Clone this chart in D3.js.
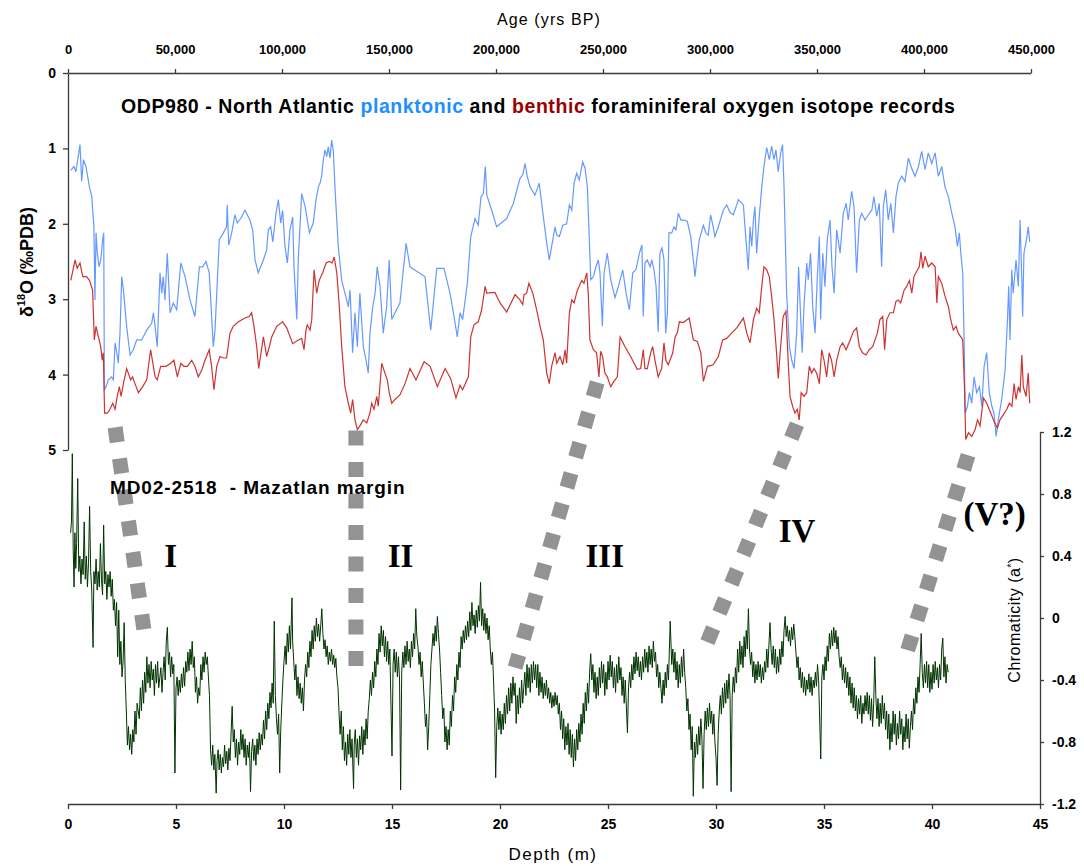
<!DOCTYPE html>
<html>
<head>
<meta charset="utf-8">
<script src="https://cdn.jsdelivr.net/npm/d3@7"></script>
<style>
  body { margin: 0; background: #fff; }
  text { font-family: "Liberation Sans", Arial, sans-serif; }
</style>
</head>
<body>
<div id="wrapper"></div>
<script>
// ODP980 planktonic / benthic d18O (age in kyr BP, per mil PDB)
const planktonic = [[1.3,1.29],[2.8,1.24],[3.7,1.31],[5.6,0.95],[6.4,1.44],[7.2,1.15],[8.4,1.24],[10.0,1.51],[11.1,1.64],[12.1,2.04],[12.6,3.01],[13.1,2.12],[13.7,2.39],[14.5,2.57],[15.3,2.48],[16.2,2.21],[16.7,2.12],[17.0,4.2],[17.8,4.16],[18.8,4.07],[20.4,4.03],[21.2,4.07],[22.0,3.58],[22.8,3.71],[23.5,3.85],[24.3,3.45],[25.1,2.70],[25.9,2.88],[27.4,3.36],[29.0,3.74],[30.5,3.67],[32.1,3.54],[34.4,3.54],[36.8,3.41],[39.1,3.32],[39.9,3.18],[40.7,3.36],[41.7,3.63],[43.0,2.65],[43.8,2.92],[44.5,2.70],[45.3,3.01],[46.4,2.39],[47.7,3.18],[49.2,3.05],[50.8,3.14],[52.7,2.52],[54.7,2.70],[57.0,3.01],[59.3,3.23],[61.4,2.57],[62.9,2.57],[64.5,2.50],[66.0,2.65],[67.9,3.63],[68.7,3.41],[70.7,2.21],[72.6,2.12],[74.1,2.04],[74.4,1.75],[75.1,2.28],[76.5,2.12],[78.0,1.88],[79.1,1.99],[80.7,1.93],[82.7,1.82],[85.0,1.95],[86.3,2.08],[87.4,2.48],[88.9,2.65],[91.3,2.48],[92.8,2.35],[93.6,2.08],[94.7,2.04],[95.7,2.24],[97.2,1.86],[98.3,1.68],[99.4,1.99],[100.3,1.82],[101.4,2.30],[102.5,2.52],[103.7,2.08],[105.0,1.91],[105.6,2.57],[106.9,3.27],[107.6,2.48],[109.2,1.60],[110.8,1.77],[112.8,2.12],[114.6,1.99],[115.9,1.68],[117.0,1.51],[117.8,1.46],[118.5,1.37],[119.3,1.15],[120.1,1.02],[120.9,1.11],[121.6,0.98],[122.4,1.13],[123.2,0.89],[124.0,1.04],[124.8,1.55],[126.3,2.30],[127.9,2.75],[129.4,2.92],[131.0,3.10],[131.8,2.88],[133.0,3.71],[134.1,3.18],[135.2,3.63],[136.4,2.92],[138.0,3.63],[139.3,3.81],[140.3,3.98],[141.1,3.45],[142.4,3.10],[143.5,2.92],[144.5,2.57],[145.8,2.83],[147.3,3.45],[148.9,3.10],[150.1,2.48],[151.3,3.27],[152.8,3.18],[155.1,3.05],[156.7,2.61],[158.0,2.26],[159.8,2.57],[162.9,2.63],[166.8,2.70],[169.5,3.41],[172.3,2.59],[175.7,2.59],[178.5,2.92],[180.4,3.23],[181.9,3.50],[183.2,3.18],[184.4,3.27],[186.6,2.79],[188.2,2.17],[190.2,1.93],[191.7,2.02],[193.0,1.64],[194.1,1.60],[195.0,1.24],[195.7,1.62],[198.0,1.82],[200.3,2.04],[205.0,1.93],[208.1,1.73],[211.2,1.40],[212.5,1.35],[213.6,1.20],[214.6,1.37],[215.9,1.51],[218.2,1.62],[220.2,1.46],[222.1,1.90],[223.7,2.26],[224.9,2.48],[226.0,2.30],[227.6,2.04],[228.4,2.15],[229.6,2.17],[231.2,2.02],[233.0,2.00],[234.3,1.75],[235.4,1.82],[236.5,1.46],[237.7,1.33],[238.9,1.42],[240.5,1.18],[241.6,1.26],[242.7,1.51],[243.6,2.21],[244.3,2.74],[245.5,2.70],[246.7,2.57],[247.8,2.48],[248.6,2.65],[249.7,3.36],[250.5,2.65],[252.0,2.39],[253.6,2.74],[255.6,2.98],[257.2,2.83],[259.2,2.61],[260.8,2.92],[262.3,3.14],[263.9,2.65],[265.4,2.61],[267.0,2.39],[268.2,2.28],[268.8,3.23],[269.6,2.52],[270.7,2.48],[272.0,2.57],[272.8,2.48],[273.8,2.61],[274.8,2.83],[275.8,3.43],[276.6,2.39],[277.6,2.32],[278.5,2.48],[279.3,3.45],[280.1,3.18],[280.8,2.12],[282.1,2.12],[283.2,2.04],[284.1,2.08],[285.2,1.86],[286.4,1.95],[287.9,1.95],[289.4,1.97],[291.0,2.17],[292.2,2.48],[293.0,2.70],[293.8,2.48],[295.0,2.21],[296.9,2.02],[298.1,2.12],[299.2,2.15],[300.3,1.88],[301.5,2.04],[302.3,2.17],[303.9,2.04],[306.2,1.82],[307.8,1.75],[309.4,1.85],[310.9,1.88],[313.3,1.68],[315.6,1.75],[316.8,2.21],[317.9,2.61],[318.7,2.04],[319.5,2.30],[320.3,1.95],[321.0,1.77],[321.8,2.39],[323.0,1.91],[324.2,1.51],[325.2,1.24],[326.5,0.99],[327.7,1.15],[328.8,0.97],[329.9,1.15],[330.8,1.02],[331.9,1.31],[333.0,1.06],[333.9,0.95],[334.6,1.51],[335.8,2.92],[337.1,3.63],[338.2,3.81],[339.3,3.92],[340.5,3.45],[341.4,2.57],[342.4,3.27],[343.1,3.71],[343.9,3.10],[345.2,2.52],[345.9,2.74],[347.0,2.39],[348.0,3.10],[349.1,3.45],[350.1,2.74],[351.1,2.17],[351.7,3.27],[352.7,2.39],[353.7,2.83],[354.8,2.21],[356.1,1.95],[357.0,2.57],[358.0,2.92],[359.2,2.08],[360.8,2.39],[362.3,1.86],[363.6,1.73],[364.6,1.95],[366.2,1.57],[367.3,1.77],[368.5,2.65],[369.8,1.95],[370.9,1.86],[372.4,1.95],[374.0,1.88],[375.6,1.82],[376.6,1.64],[377.9,1.90],[379.1,1.73],[380.2,2.57],[381.0,1.77],[382.1,1.55],[383.3,1.95],[384.5,1.73],[385.7,2.12],[386.9,1.64],[388.0,1.46],[389.6,1.37],[391.1,1.44],[392.7,1.13],[394.2,1.26],[395.8,1.37],[397.4,1.24],[398.9,1.04],[400.5,1.28],[402.0,1.06],[403.6,1.20],[405.2,1.06],[406.7,1.37],[408.3,1.24],[409.8,1.51],[411.4,1.64],[413.0,1.86],[414.5,2.04],[415.6,2.30],[416.5,2.12],[417.2,2.39],[418.1,2.65],[418.7,3.50],[419.3,4.51],[420.3,4.42],[421.2,4.24],[422.3,4.38],[423.4,4.03],[424.6,4.24],[425.9,4.16],[427.0,4.42],[428.1,3.89],[429.3,3.71],[430.5,4.24],[431.7,4.42],[432.7,4.51],[433.7,4.82],[434.7,4.60],[436.3,4.33],[437.9,3.94],[439.0,3.27],[439.6,2.83],[440.2,3.54],[441.0,2.61],[441.7,2.92],[443.0,2.48],[444.1,2.83],[444.9,1.95],[445.7,2.74],[446.1,3.23],[446.7,2.39],[447.9,2.21],[448.7,2.04],[449.4,2.24]];

const benthic = [[1.3,2.75],[2.2,2.63],[3.3,2.48],[4.3,2.59],[5.6,2.52],[6.9,2.70],[8.7,2.70],[10.0,2.75],[11.5,2.88],[12.3,3.54],[13.1,3.36],[14.2,3.50],[15.3,3.63],[16.0,3.81],[16.5,3.71],[17.1,4.51],[18.4,4.51],[19.6,4.46],[20.9,4.38],[22.0,4.46],[23.0,4.29],[24.0,4.16],[24.8,4.29],[25.9,4.12],[27.4,3.92],[29.3,4.07],[30.2,4.03],[31.3,4.12],[32.9,4.24],[34.9,4.16],[36.8,4.07],[38.6,3.67],[39.9,3.89],[40.7,4.03],[41.7,4.07],[43.3,3.89],[45.8,3.89],[48.0,3.85],[49.5,3.81],[51.1,4.03],[52.7,3.85],[54.2,3.89],[55.8,3.89],[57.8,3.81],[59.3,3.89],[60.9,4.03],[62.5,3.94],[64.0,3.81],[66.0,3.67],[67.1,3.89],[68.2,4.20],[69.5,3.89],[71.0,3.76],[72.6,3.78],[74.1,3.78],[75.7,3.45],[77.2,3.36],[79.6,3.30],[82.7,3.25],[84.7,3.23],[85.8,3.18],[86.9,3.36],[88.2,3.63],[89.1,3.92],[90.2,3.71],[91.3,3.50],[92.1,3.63],[92.8,3.76],[94.1,3.63],[95.2,3.50],[97.5,3.36],[100.3,3.30],[102.2,3.38],[105.0,3.59],[107.6,3.54],[109.2,3.52],[110.3,3.67],[111.2,3.41],[111.8,3.34],[113.1,3.41],[113.9,3.27],[115.0,2.61],[116.2,2.92],[117.4,2.75],[119.0,2.65],[120.6,2.52],[122.1,2.50],[123.4,2.52],[124.4,2.44],[125.6,2.65],[126.8,3.10],[127.9,3.63],[129.4,4.16],[131.0,4.38],[132.1,4.51],[133.0,4.33],[134.1,4.60],[135.2,4.73],[136.4,4.68],[138.0,4.60],[139.6,4.64],[141.1,4.51],[141.9,4.38],[143.0,4.46],[144.3,4.29],[145.0,4.42],[146.6,3.85],[148.1,3.98],[149.2,4.07],[150.1,4.24],[151.3,4.38],[152.8,4.33],[155.1,4.27],[157.5,4.12],[159.8,3.92],[162.6,4.07],[166.4,3.83],[169.2,3.89],[172.6,4.16],[176.2,3.92],[178.8,4.05],[181.3,4.31],[183.2,4.14],[184.4,4.20],[187.1,4.03],[188.2,3.50],[189.7,3.34],[191.7,3.30],[193.3,3.14],[194.9,2.83],[195.7,2.92],[199.5,2.91],[201.9,3.05],[205.0,3.17],[208.9,2.94],[211.2,3.01],[212.5,3.07],[213.1,2.94],[214.3,2.92],[215.4,2.79],[217.2,2.92],[219.0,3.14],[220.6,3.36],[222.1,3.54],[223.7,3.98],[224.9,4.12],[226.0,3.89],[227.6,3.71],[228.4,3.85],[229.9,3.76],[231.2,3.87],[232.3,3.67],[233.0,3.85],[234.3,3.18],[235.4,3.01],[236.5,3.05],[238.0,2.88],[240.1,2.75],[241.1,2.79],[242.4,2.65],[243.1,2.92],[243.9,3.54],[245.5,3.67],[247.0,3.71],[248.1,4.03],[248.9,3.69],[249.8,3.76],[250.9,3.98],[252.0,4.03],[253.6,4.16],[255.1,4.09],[256.7,4.03],[258.0,3.50],[260.3,3.63],[262.9,3.76],[266.0,3.93],[267.6,3.92],[268.8,3.67],[269.6,3.92],[270.7,3.92],[272.3,3.71],[273.2,3.63],[274.3,3.81],[275.8,4.03],[277.4,3.92],[278.5,3.58],[279.4,3.81],[280.5,3.87],[282.6,3.71],[283.7,3.50],[284.7,3.45],[285.7,3.30],[287.5,3.31],[290.3,3.25],[292.2,3.54],[294.1,3.56],[295.7,3.71],[296.9,4.09],[298.8,3.89],[301.5,3.87],[303.9,3.76],[305.9,3.54],[307.8,3.52],[309.4,3.47],[312.5,3.38],[315.6,3.25],[317.2,3.45],[318.7,3.58],[320.3,3.27],[321.8,3.12],[323.0,3.18],[324.2,2.83],[325.2,2.57],[326.5,2.61],[327.7,2.70],[328.8,2.96],[329.9,3.27],[331.1,3.71],[331.9,4.05],[333.0,3.63],[334.2,3.23],[335.5,3.16],[336.5,3.81],[337.4,4.29],[338.6,4.42],[339.7,4.51],[340.8,4.46],[341.7,4.60],[342.6,4.24],[343.9,4.29],[345.2,4.24],[346.4,3.89],[347.5,3.98],[348.6,3.92],[349.8,3.98],[351.1,4.12],[352.2,3.67],[353.3,3.81],[354.5,4.03],[355.7,3.71],[356.8,3.81],[358.0,4.03],[359.2,3.81],[360.8,3.63],[362.0,3.58],[363.6,3.67],[365.5,3.54],[367.0,3.43],[368.5,3.38],[369.8,3.63],[371.3,3.71],[372.9,3.74],[374.4,3.67],[376.0,3.63],[377.1,3.54],[378.2,3.45],[379.4,3.27],[380.7,3.23],[381.6,3.67],[382.6,3.27],[384.1,3.18],[385.7,3.18],[386.9,3.03],[388.0,3.01],[389.1,3.05],[390.7,2.88],[391.9,2.83],[393.2,2.75],[394.3,2.92],[395.3,2.70],[396.6,2.63],[397.8,2.57],[398.6,2.37],[399.4,2.59],[400.5,2.43],[402.0,2.57],[403.6,2.52],[405.2,2.57],[406.0,3.05],[406.7,2.70],[408.3,2.79],[409.8,2.96],[411.4,3.10],[412.5,3.27],[413.7,3.41],[415.0,3.36],[416.0,3.45],[417.2,3.50],[418.1,3.54],[418.9,4.16],[419.5,4.86],[420.8,4.77],[422.3,4.82],[423.9,4.73],[425.0,4.60],[426.2,4.68],[427.8,4.31],[429.3,4.38],[431.2,4.51],[432.7,4.62],[434.3,4.71],[435.5,4.60],[437.1,4.53],[438.7,4.46],[439.9,4.38],[441.1,4.42],[442.1,4.12],[443.0,4.33],[444.1,4.16],[444.9,4.24],[445.7,3.74],[446.4,4.16],[447.7,4.29],[448.7,3.98],[449.4,4.38]];

// MD02-2518 chromaticity a* (depth m, a*)
const chromaticity = [[0.12,0.55],[0.16,0.62],[0.2,1.06],[0.24,0.45],[0.28,0.2],[0.32,0.55],[0.36,0.32],[0.4,0.48],[0.45,0.9],[0.5,0.3],[0.55,0.4],[0.6,0.22],[0.65,0.38],[0.7,0.28],[0.75,0.62],[0.8,0.25],[0.85,0.4],[0.9,0.2],[0.95,0.36],[1.0,0.72],[1.05,0.3],[1.1,0.18],[1.16,-0.19],[1.2,0.3],[1.25,0.22],[1.3,0.38],[1.35,0.18],[1.4,0.3],[1.45,0.2],[1.5,0.48],[1.55,0.25],[1.6,0.15],[1.65,0.6],[1.7,0.22],[1.75,0.3],[1.8,0.12],[1.85,0.28],[1.9,0.2],[1.95,0.3],[2.0,0.14],[2.05,0.25],[2.1,0.05],[2.15,0.12],[2.2,-0.05],[2.25,0.1],[2.3,-0.25],[2.35,0.05],[2.4,-0.3],[2.45,-0.15],[2.5,-0.38],[2.55,-0.28],[2.6,-0.03],[2.65,-0.4],[2.7,-0.6],[2.75,-0.82],[2.8,-0.7],[2.85,-0.85],[2.9,-0.75],[2.95,-0.88],[3.0,-0.72],[3.05,-0.8],[3.1,-0.6],[3.15,-0.75],[3.2,-0.55],[3.3,-0.65],[3.35,-0.45],[3.4,-0.6],[3.45,-0.4],[3.5,-0.55],[3.55,-0.35],[3.6,-0.48],[3.65,-0.25],[3.7,-0.42],[3.75,-0.3],[3.8,-0.45],[3.85,-0.28],[3.9,-0.4],[3.95,-0.33],[4.0,-0.5],[4.05,-0.3],[4.1,-0.42],[4.15,-0.28],[4.2,-0.45],[4.3,-0.32],[4.35,-0.48],[4.4,-0.35],[4.45,-0.25],[4.5,-0.4],[4.55,-0.15],[4.6,-0.06],[4.65,-0.3],[4.7,-0.22],[4.75,-0.38],[4.8,-0.25],[4.85,-0.36],[4.9,-0.3],[4.95,-1.0],[5.0,-0.45],[5.05,-0.38],[5.1,-0.5],[5.15,-0.4],[5.2,-0.48],[5.25,-0.36],[5.3,-0.45],[5.35,-0.32],[5.4,-0.44],[5.45,-0.28],[5.5,-0.35],[5.55,-0.22],[5.6,-0.34],[5.65,-0.2],[5.7,-0.3],[5.75,-0.15],[5.8,-0.32],[5.85,-0.25],[5.9,-0.48],[5.95,-0.38],[6.0,-0.55],[6.05,-0.45],[6.1,-0.5],[6.15,-0.3],[6.2,-0.4],[6.25,-0.25],[6.3,-0.35],[6.35,-0.22],[6.4,-0.3],[6.45,-0.25],[6.5,-0.38],[6.55,-0.5],[6.6,-0.85],[6.65,-0.95],[6.7,-0.82],[6.75,-0.98],[6.8,-0.88],[6.86,-1.13],[6.9,-0.92],[6.95,-0.85],[7.0,-0.98],[7.05,-0.88],[7.1,-1.0],[7.15,-0.9],[7.2,-0.96],[7.25,-0.82],[7.3,-0.94],[7.35,-0.86],[7.4,-0.98],[7.45,-0.84],[7.5,-0.92],[7.6,-0.57],[7.65,-0.8],[7.7,-0.72],[7.75,-0.9],[7.8,-0.78],[7.85,-0.95],[7.9,-0.8],[7.95,-0.88],[8.0,-0.72],[8.05,-0.85],[8.1,-0.75],[8.15,-0.9],[8.2,-0.78],[8.25,-0.95],[8.3,-0.82],[8.35,-0.9],[8.4,-0.8],[8.45,-1.12],[8.5,-0.86],[8.55,-0.78],[8.6,-0.92],[8.65,-0.82],[8.7,-0.95],[8.75,-0.78],[8.8,-0.88],[8.85,-0.74],[8.9,-0.85],[8.95,-0.75],[9.0,-0.82],[9.05,-0.66],[9.1,-0.78],[9.15,-0.6],[9.2,-0.72],[9.25,-0.55],[9.3,-0.65],[9.35,-0.48],[9.4,-0.58],[9.45,-0.42],[9.5,-0.55],[9.55,-0.02],[9.6,-0.5],[9.65,-0.65],[9.7,-0.75],[9.75,-0.62],[9.8,-1.0],[9.85,-0.72],[9.9,-0.55],[9.95,-0.4],[10.0,-0.28],[10.05,-0.18],[10.1,-0.3],[10.15,-0.1],[10.2,-0.22],[10.25,-0.05],[10.3,-0.2],[10.37,0.13],[10.4,-0.15],[10.45,-0.28],[10.5,-0.4],[10.55,-0.3],[10.6,-0.5],[10.65,-0.38],[10.7,-0.52],[10.75,-0.42],[10.8,-0.55],[10.85,-0.45],[10.9,-0.6],[10.95,-0.4],[11.0,-0.3],[11.05,-0.38],[11.1,-0.22],[11.15,-0.32],[11.2,-0.15],[11.25,-0.25],[11.3,-0.08],[11.35,-0.2],[11.4,-0.05],[11.45,-0.15],[11.5,0.0],[11.55,-0.12],[11.6,-0.04],[11.65,-0.15],[11.7,-0.05],[11.75,0.06],[11.8,-0.1],[11.85,-0.2],[11.9,-0.14],[11.95,-0.25],[12.0,-0.18],[12.05,-0.3],[12.1,-0.22],[12.15,-0.28],[12.2,-0.2],[12.25,-0.3],[12.3,-0.24],[12.35,-0.32],[12.4,-0.26],[12.45,-0.38],[12.5,-0.45],[12.55,-0.62],[12.6,-0.75],[12.65,-0.6],[12.7,-0.85],[12.75,-0.7],[12.8,-0.92],[12.85,-0.8],[12.9,-0.95],[12.95,-0.75],[13.0,-0.88],[13.05,-0.72],[13.1,-0.9],[13.15,-0.78],[13.22,-1.1],[13.25,-0.82],[13.3,-0.72],[13.35,-0.9],[13.4,-0.78],[13.45,-0.95],[13.5,-0.76],[13.55,-0.85],[13.6,-0.7],[13.65,-0.88],[13.7,-0.72],[13.75,-0.82],[13.8,-0.65],[13.85,-0.78],[13.9,-0.6],[13.95,-0.52],[14.0,-0.4],[14.05,-0.5],[14.1,-0.35],[14.15,-0.45],[14.2,-0.28],[14.25,-0.38],[14.3,-0.2],[14.35,-0.3],[14.4,-0.1],[14.45,-0.22],[14.5,-0.05],[14.55,-0.18],[14.6,-0.08],[14.65,-0.25],[14.7,-0.12],[14.75,-0.28],[14.8,-0.15],[14.85,-0.3],[14.9,-0.2],[15.0,-0.89],[15.05,-0.3],[15.1,-0.2],[15.15,-0.35],[15.2,-0.22],[15.25,-0.38],[15.3,-0.25],[15.35,-0.4],[15.4,-1.11],[15.45,-0.35],[15.5,-0.22],[15.55,-0.32],[15.6,-0.18],[15.65,-0.3],[15.7,-0.15],[15.75,-0.28],[15.8,-0.2],[15.85,-0.32],[15.9,-0.15],[15.95,-0.25],[16.0,-0.1],[16.05,-0.2],[16.1,0.06],[16.15,-0.12],[16.2,-0.18],[16.25,-0.3],[16.3,-0.22],[16.35,-0.38],[16.4,-0.28],[16.45,-0.42],[16.5,-0.55],[16.55,-0.7],[16.6,-0.62],[16.65,-0.85],[16.7,-0.7],[16.75,-0.5],[16.8,-0.3],[16.85,-0.2],[16.9,-0.1],[16.95,-0.18],[17.0,-0.05],[17.05,-0.15],[17.1,0.01],[17.15,-0.1],[17.2,-0.2],[17.25,-0.35],[17.3,-0.5],[17.35,-0.65],[17.4,-0.58],[17.45,-0.8],[17.5,-0.7],[17.55,-0.85],[17.6,-0.72],[17.65,-0.82],[17.7,-0.6],[17.75,-0.7],[17.8,-0.5],[17.85,-0.6],[17.9,-0.38],[17.95,-0.48],[18.0,-0.3],[18.05,-0.4],[18.1,-0.22],[18.15,-0.32],[18.2,-0.12],[18.25,-0.2],[18.3,-0.08],[18.35,-0.16],[18.4,-0.05],[18.45,-0.14],[18.5,-0.02],[18.55,-0.12],[18.6,0.04],[18.65,-0.08],[18.7,0.1],[18.75,-0.05],[18.8,0.02],[18.85,-0.1],[18.9,0.05],[18.95,-0.06],[19.0,0.08],[19.05,-0.02],[19.1,0.23],[19.15,-0.05],[19.2,0.06],[19.25,-0.08],[19.3,0.03],[19.35,-0.1],[19.4,0.0],[19.45,-0.14],[19.5,-0.05],[19.55,-0.2],[19.6,-0.3],[19.65,-0.22],[19.7,-0.4],[19.75,-0.6],[19.8,-1.03],[19.85,-0.7],[19.9,-0.58],[19.95,-0.72],[20.0,-0.6],[20.05,-0.75],[20.1,-0.62],[20.15,-0.72],[20.2,-0.55],[20.25,-0.68],[20.3,-0.5],[20.35,-0.62],[20.4,-0.45],[20.45,-0.6],[20.5,-0.42],[20.55,-0.55],[20.6,-0.38],[20.65,-0.5],[20.7,-0.42],[20.75,-0.68],[20.8,-0.5],[20.85,-0.62],[20.9,-0.45],[20.95,-0.58],[21.0,-0.4],[21.05,-0.55],[21.1,-0.45],[21.15,-0.35],[21.2,-0.5],[21.25,-0.3],[21.3,-0.45],[21.35,-0.32],[21.4,-0.48],[21.45,-0.3],[21.5,-0.42],[21.55,-0.28],[21.6,-0.4],[21.65,-0.3],[21.7,-0.45],[21.75,-0.3],[21.8,-0.5],[21.85,-0.35],[21.9,-0.48],[21.95,-0.38],[22.0,-0.52],[22.05,-0.42],[22.1,-0.5],[22.15,-0.4],[22.2,-0.52],[22.25,-0.45],[22.3,-0.55],[22.35,-0.48],[22.4,-0.58],[22.45,-0.5],[22.5,-0.57],[22.55,-0.48],[22.6,-0.56],[22.65,-0.5],[22.7,-0.62],[22.75,-0.55],[22.8,-0.72],[22.85,-0.6],[22.9,-0.78],[22.95,-0.65],[23.0,-0.85],[23.05,-0.7],[23.1,-0.82],[23.15,-0.68],[23.2,-0.88],[23.25,-0.72],[23.3,-0.9],[23.35,-0.75],[23.4,-0.96],[23.45,-0.78],[23.5,-0.92],[23.55,-0.72],[23.6,-0.85],[23.65,-0.68],[23.7,-0.8],[23.75,-0.62],[23.8,-0.75],[23.85,-0.55],[23.9,-0.68],[23.95,-0.48],[24.0,-0.6],[24.05,-0.42],[24.1,-0.55],[24.15,-0.35],[24.2,-0.23],[24.25,-0.4],[24.3,-0.3],[24.35,-0.48],[24.4,-0.35],[24.45,-0.52],[24.5,-0.38],[24.55,-0.5],[24.6,-0.32],[24.65,-0.45],[24.7,-0.28],[24.75,-0.42],[24.8,-0.3],[24.85,-0.5],[24.9,-0.35],[24.95,-0.46],[25.0,-0.28],[25.05,-0.4],[25.1,-0.24],[25.15,-0.38],[25.2,-0.28],[25.25,-0.45],[25.3,-0.32],[25.35,-0.48],[25.4,-0.3],[25.45,-0.42],[25.5,-0.25],[25.55,-0.4],[25.6,-0.32],[25.65,-0.5],[25.7,-0.38],[25.75,-0.55],[25.8,-0.4],[25.9,-0.74],[25.95,-0.45],[26.0,-0.35],[26.05,-0.45],[26.1,-0.3],[26.15,-0.4],[26.2,-0.25],[26.25,-0.36],[26.3,-0.22],[26.35,-0.34],[26.4,-0.25],[26.45,-0.38],[26.5,-0.28],[26.55,-0.4],[26.6,-0.25],[26.65,-0.35],[26.7,-0.2],[26.75,-0.32],[26.8,-0.22],[26.85,-0.35],[26.9,-0.18],[26.95,-0.3],[27.0,-0.2],[27.05,-0.32],[27.1,-0.15],[27.15,-0.28],[27.2,-0.22],[27.25,-0.38],[27.3,-0.3],[27.35,-0.45],[27.4,-0.35],[27.5,-0.55],[27.55,-0.4],[27.6,-0.5],[27.65,-0.35],[27.7,-0.45],[27.75,-0.3],[27.8,-0.4],[27.88,-0.02],[27.95,-0.3],[28.0,-0.2],[28.05,-0.35],[28.1,-0.22],[28.15,-0.4],[28.2,-0.28],[28.25,-0.45],[28.3,-0.3],[28.35,-0.42],[28.4,-0.25],[28.45,-0.38],[28.5,-0.2],[28.55,-0.35],[28.6,-0.45],[28.65,-0.6],[28.7,-0.52],[28.75,-0.72],[28.8,-0.62],[28.85,-0.85],[28.9,-0.7],[28.95,-1.15],[29.0,-0.8],[29.05,-0.9],[29.1,-0.75],[29.15,-0.88],[29.2,-0.7],[29.25,-0.82],[29.3,-0.65],[29.35,-0.78],[29.4,-1.1],[29.45,-0.75],[29.5,-0.6],[29.55,-0.72],[29.6,-0.58],[29.65,-0.7],[29.7,-0.55],[29.75,-0.68],[29.8,-0.6],[29.85,-0.75],[29.9,-0.62],[29.95,-0.8],[30.0,-0.9],[30.05,-1.08],[30.1,-0.75],[30.15,-0.6],[30.2,-0.5],[30.25,-0.62],[30.3,-0.45],[30.35,-0.58],[30.4,-0.42],[30.45,-0.55],[30.5,-0.4],[30.55,-0.52],[30.6,-0.36],[30.65,-0.5],[30.7,-1.12],[30.75,-0.5],[30.8,-0.38],[30.85,-0.48],[30.9,-0.32],[30.95,-0.42],[31.0,-0.2],[31.05,-0.35],[31.1,-0.15],[31.15,-0.3],[31.2,-0.18],[31.25,-0.32],[31.3,-0.12],[31.35,-0.25],[31.4,-0.08],[31.45,-0.2],[31.5,0.06],[31.55,-0.2],[31.6,-0.3],[31.65,-0.22],[31.7,-0.38],[31.75,-0.28],[31.8,-0.42],[31.85,-0.3],[31.9,-0.4],[31.95,-0.28],[32.0,-0.38],[32.05,-0.3],[32.1,-0.42],[32.15,-0.32],[32.2,-0.4],[32.25,-0.28],[32.3,-0.35],[32.35,-0.2],[32.4,-0.32],[32.5,-0.03],[32.55,-0.2],[32.6,-0.3],[32.65,-0.18],[32.7,-0.32],[32.75,-0.2],[32.8,-0.36],[32.85,-0.25],[32.9,-0.35],[32.95,-0.2],[33.0,-0.3],[33.05,-0.15],[33.1,-0.25],[33.15,-0.08],[33.2,0.01],[33.25,-0.12],[33.3,-0.05],[33.35,-0.15],[33.4,-0.08],[33.45,-0.18],[33.5,-0.06],[33.55,-0.14],[33.6,-0.04],[33.65,-0.12],[33.7,-0.22],[33.75,-0.32],[33.8,-0.25],[33.85,-0.4],[33.9,-0.32],[33.95,-0.45],[34.0,-0.35],[34.05,-0.48],[34.1,-0.38],[34.15,-0.5],[34.2,-0.4],[34.25,-0.46],[34.3,-0.36],[34.35,-0.48],[34.4,-0.38],[34.45,-0.5],[34.5,-0.4],[34.55,-0.45],[34.6,-0.35],[34.65,-0.44],[34.7,-0.3],[34.75,-0.4],[34.85,-0.91],[34.9,-0.38],[34.95,-0.3],[35.0,-0.4],[35.05,-0.25],[35.1,-0.34],[35.15,-0.18],[35.2,-0.28],[35.25,-0.1],[35.3,-0.2],[35.35,-0.08],[35.4,-0.18],[35.45,-0.06],[35.5,-0.16],[35.55,-0.08],[35.6,-0.2],[35.65,-0.12],[35.7,-0.25],[35.75,-0.32],[35.8,-0.25],[35.85,-0.4],[35.9,-0.3],[35.95,-0.42],[36.0,-0.32],[36.05,-0.45],[36.1,-0.35],[36.15,-0.5],[36.2,-0.38],[36.25,-0.55],[36.3,-0.42],[36.35,-0.58],[36.4,-0.45],[36.45,-0.6],[36.5,-0.5],[36.55,-0.65],[36.6,-0.52],[36.65,-0.62],[36.7,-0.5],[36.75,-0.68],[36.8,-0.55],[36.85,-0.62],[36.9,-0.5],[36.95,-0.6],[37.0,-0.48],[37.05,-0.62],[37.1,-0.5],[37.15,-0.66],[37.2,-0.52],[37.25,-0.7],[37.3,-0.55],[37.35,-0.25],[37.4,-0.5],[37.45,-0.65],[37.5,-0.52],[37.55,-0.7],[37.6,-0.55],[37.65,-0.68],[37.7,-0.5],[37.75,-0.65],[37.8,-0.55],[37.85,-0.72],[37.9,-0.6],[37.95,-0.78],[38.0,-0.62],[38.05,-0.85],[38.1,-0.68],[38.15,-0.8],[38.2,-0.6],[38.25,-0.75],[38.3,-0.62],[38.35,-0.82],[38.4,-0.68],[38.45,-0.78],[38.5,-0.6],[38.55,-0.75],[38.6,-0.65],[38.65,-0.85],[38.7,-0.7],[38.75,-0.8],[38.8,-0.62],[38.85,-0.78],[38.9,-0.65],[38.95,-0.84],[39.0,-0.7],[39.05,-0.6],[39.1,-0.72],[39.15,-0.52],[39.2,-0.62],[39.25,-0.45],[39.3,-0.55],[39.35,-0.38],[39.4,-0.48],[39.45,-0.3],[39.5,-0.1],[39.55,-0.35],[39.6,-0.45],[39.65,-0.3],[39.7,-0.42],[39.75,-0.28],[39.8,-0.45],[39.85,-0.3],[39.9,-0.48],[39.95,-0.35],[40.0,-0.46],[40.05,-0.3],[40.1,-0.42],[40.15,-0.28],[40.2,-0.4],[40.25,-0.32],[40.3,-0.45],[40.35,-0.3],[40.4,-0.4],[40.45,-0.2],[40.5,-0.13],[40.55,-0.38],[40.6,-0.25],[40.65,-0.42],[40.7,-0.3],[40.75,-0.35]];

// correlation connectors between the two records, in depth (m) / a* units
const connectors = [
    { label: "I",    from: [2.18, 1.23],  to: [3.56, -0.12], at: [4.75, 0.33] },
    { label: "II",   from: [13.33, 1.21], to: [13.33, -0.34], at: [15.4, 0.33] },
    { label: "III",  from: [24.5, 1.52],  to: [20.7, -0.32], at: [24.85, 0.33] },
    { label: "IV",   from: [33.75, 1.25], to: [29.5, -0.19], at: [33.75, 0.49] },
    { label: "(V?)", from: [41.67, 1.05], to: [38.8, -0.24], at: [42.9, 0.60] }
];

const ageTicks = [0, 50000, 100000, 150000, 200000, 250000, 300000, 350000, 400000, 450000];
const isoTicks = [0, 1, 2, 3, 4, 5];
const depthTicks = [0, 5, 10, 15, 20, 25, 30, 35, 40, 45];
const chromaTicks = [-1.2, -0.8, -0.4, 0, 0.4, 0.8, 1.2];

const width = 1084, height = 866;

const svg = d3.select("#wrapper").append("svg")
    .attr("width", width)
    .attr("height", height);

// scales
const xAge = d3.scaleLinear().domain([0, 450000]).range([68, 1031]);
const yIso = d3.scaleLinear().domain([0, 5]).range([73, 450]);
const xDepth = d3.scaleLinear().domain([0, 45]).range([68, 1040]);
const yChroma = d3.scaleLinear().domain([-1.2, 1.2]).range([804, 432]);

const axisColor = "#3a3a3a";

function styleAxis(g, size) {
    g.selectAll("path, line").attr("stroke", axisColor).attr("stroke-width", 1.3);
    g.selectAll("text")
        .attr("fill", "#000")
        .style("font-family", '"Liberation Sans", Arial, sans-serif')
        .style("font-weight", "bold")
        .style("font-size", size + "px");
}

// top axis: age
svg.append("g")
    .attr("transform", `translate(0,${yIso(0)})`)
    .call(d3.axisTop(xAge).tickValues(ageTicks).tickFormat(d3.format(",")).tickSizeInner(4).tickSizeOuter(0).tickPadding(15))
    .call(g => styleAxis(g, 13));

// left axis: d18O
svg.append("g")
    .attr("transform", `translate(${xAge(0)},0)`)
    .call(d3.axisLeft(yIso).tickValues(isoTicks).tickFormat(d => d).tickSizeInner(5).tickSizeOuter(0).tickPadding(7))
    .call(g => styleAxis(g, 14));

// bottom axis: depth
svg.append("g")
    .attr("transform", `translate(0,${yChroma(-1.2)})`)
    .call(d3.axisBottom(xDepth).tickValues(depthTicks).tickFormat(d => d).tickSizeInner(5).tickSizeOuter(0).tickPadding(10))
    .call(g => styleAxis(g, 14));

// right axis: chromaticity
svg.append("g")
    .attr("transform", `translate(${xDepth(45)},0)`)
    .call(d3.axisRight(yChroma).tickValues(chromaTicks).tickFormat(d => String(d)).tickSizeInner(4).tickSizeOuter(0).tickPadding(8))
    .call(g => styleAxis(g, 14));

// axis titles
svg.append("text")
    .attr("x", 549).attr("y", 25)
    .attr("text-anchor", "middle")
    .style("font-size", "16px")
    .style("letter-spacing", "1.1px")
    .text("Age (yrs BP)");

svg.append("text")
    .attr("x", 553).attr("y", 860)
    .attr("text-anchor", "middle")
    .style("font-size", "17px")
    .style("letter-spacing", "1.5px")
    .text("Depth (m)");

const isoLabel = svg.append("text")
    .attr("transform", "translate(33,262) rotate(-90)")
    .attr("text-anchor", "middle")
    .style("font-size", "18px")
    .style("font-weight", "bold");
isoLabel.append("tspan").text("δ");
isoLabel.append("tspan").attr("dy", -8).style("font-size", "11px").text("18");
isoLabel.append("tspan").attr("dy", 8).text("O (‰PDB)");

const chromaLabel = svg.append("text")
    .attr("transform", "translate(1020,620) rotate(-90)")
    .attr("text-anchor", "middle")
    .style("font-size", "16px")
    .style("letter-spacing", "0.5px");
chromaLabel.append("tspan").text("Chromaticity (a");
chromaLabel.append("tspan").attr("dy", -5).style("font-size", "10px").text("*");
chromaLabel.append("tspan").attr("dy", 5).text(")");

// lines
const lineIso = d3.line()
    .x(d => xAge(d[0] * 1000))
    .y(d => yIso(d[1]));

const lineChroma = d3.line()
    .x(d => xDepth(d[0]))
    .y(d => yChroma(d[1]));

svg.append("path")
    .attr("fill", "none")
    .attr("stroke", "#003300")
    .attr("stroke-width", 1)
    .attr("d", lineChroma(chromaticity));

svg.append("path")
    .attr("fill", "none")
    .attr("stroke", "#6699ff")
    .attr("stroke-width", 1.2)
    .attr("d", lineIso(planktonic));

svg.append("path")
    .attr("fill", "none")
    .attr("stroke", "#cc3333")
    .attr("stroke-width", 1.2)
    .attr("d", lineIso(benthic));

// dashed correlation lines + labels
svg.append("g").selectAll("line")
    .data(connectors)
    .join("line")
    .attr("x1", d => xDepth(d.from[0]))
    .attr("y1", d => yChroma(d.from[1]))
    .attr("x2", d => xDepth(d.to[0]))
    .attr("y2", d => yChroma(d.to[1]))
    .attr("stroke", "#939393")
    .attr("stroke-width", 15)
    .attr("stroke-dasharray", "15 16.5");

svg.append("g").selectAll("text")
    .data(connectors)
    .join("text")
    .attr("x", d => xDepth(d.at[0]))
    .attr("y", d => yChroma(d.at[1]))
    .attr("text-anchor", "middle")
    .style("font-family", '"Liberation Serif", "Times New Roman", serif')
    .style("font-weight", "bold")
    .style("font-size", "33px")
    .text(d => d.label);

// titles
const title = svg.append("text")
    .attr("x", 121).attr("y", 113)
    .style("font-size", "19.5px")
    .style("font-weight", "bold")
    .style("letter-spacing", "0.57px");
title.append("tspan").text("ODP980 - North Atlantic ");
title.append("tspan").attr("fill", "#1e8fff").text("planktonic");
title.append("tspan").text(" and ");
title.append("tspan").attr("fill", "#990000").text("benthic");
title.append("tspan").text(" foraminiferal oxygen isotope records");

svg.append("text")
    .attr("x", 110).attr("y", 494)
    .style("font-size", "19px")
    .style("font-weight", "bold")
    .style("letter-spacing", "0.9px")
    .style("white-space", "pre")
    .text("MD02-2518  - Mazatlan margin");
</script>
</body>
</html>
